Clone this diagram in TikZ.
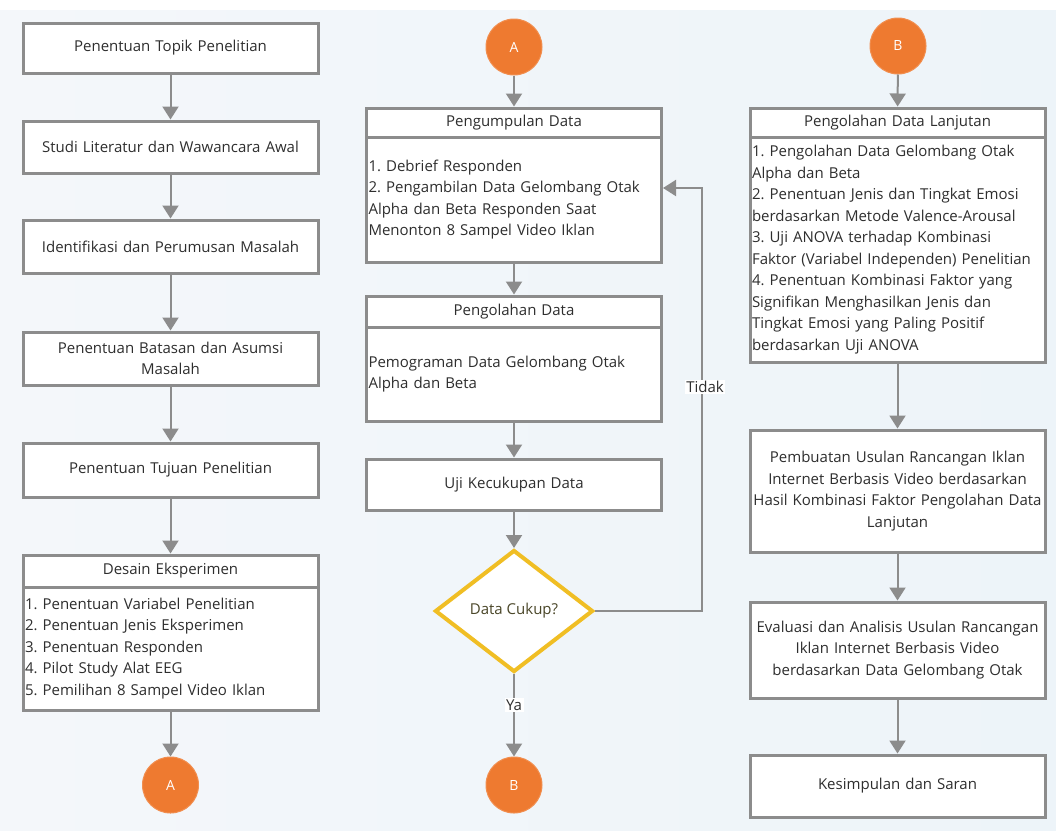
\documentclass[tikz,border=0pt]{standalone}
\usepackage{fontspec}
\setmainfont{Open Sans}
\frenchspacing
\usetikzlibrary{shapes.geometric,arrows.meta,calc}
\definecolor{bordc}{HTML}{8C8C8C}
\definecolor{txtc}{HTML}{2E2E2E}
\definecolor{orangec}{HTML}{EE7A30}
\definecolor{goldc}{HTML}{F0BE24}
\definecolor{diatxt}{HTML}{4A4628}
\definecolor{bgL}{HTML}{F4F7FA}
\definecolor{bgM}{HTML}{D8EAF4}
\definecolor{bgR}{HTML}{EDF4F9}
\begin{document}
\begin{tikzpicture}[x=1pt,y=-1pt,
  font=\fontsize{15}{21.5}\selectfont,
  box/.style={draw=bordc, line width=3pt, fill=white, text=txtc, minimum width=295pt, align=center, text width=291pt, inner xsep=2pt, inner ysep=2pt},
  body/.style={box, align=left},
  conn/.style={circle, fill=orangec, draw=orangec!85!white, line width=1pt, minimum size=56pt, inner sep=0pt, text=white, font=\fontsize{14}{16}\selectfont},
  arr/.style={draw=bordc, line width=2pt, -{Triangle[length=13pt,width=16pt]}, bordc},
  lbl/.style={fill=white, text=txtc, inner sep=1.5pt}
]
\useasboundingbox (0,0) rectangle (1056,830);
\fill[white] (0,0) rectangle (1056,830);
\shade[left color=bgL, middle color=bgM, right color=bgR] (0,10) rectangle (1056,830);

% Left column
\node[box, minimum height=50pt] (t1) at (170.5,48) {Penentuan Topik Penelitian};
\node[box, minimum height=52pt] (t2) at (170.5,147) {Studi Literatur dan Wawancara Awal};
\node[box, minimum height=53pt] (t3) at (170.5,246.5) {Identifikasi dan Perumusan Masalah};
\node[box, minimum height=53pt] (t4) at (170.5,358.5) {Penentuan Batasan dan Asumsi\\Masalah};
\node[box, minimum height=54pt] (t5) at (170.5,470) {Penentuan Tujuan Penelitian};
\node[box, minimum height=32pt] (desH) at (170.5,571) {Desain Eksperimen};
\node[body, minimum height=123pt] (desB) at (170.5,648.5) {1. Penentuan Variabel Penelitian\\2. Penentuan Jenis Eksperimen\\3. Penentuan Responden\\4. Pilot Study Alat EEG\\5. Pemilihan 8 Sampel Video Iklan};
\node[conn] (cA1) at (170.5,785) {A};

% Middle column
\node[conn] (cA2) at (514,47) {A};
\node[box, minimum height=29pt] (pgH) at (514,122.5) {Pengumpulan Data};
\node[body, minimum height=125pt] (pgB) at (514,199.5) {1. Debrief Responden\\2. Pengambilan Data Gelombang Otak\\Alpha dan Beta Responden Saat\\Menonton 8 Sampel Video Iklan};
\node[box, minimum height=31pt] (poH) at (514,311.5) {Pengolahan Data};
\node[body, minimum height=94pt] (poB) at (514,374) {Pemograman Data Gelombang Otak\\Alpha dan Beta};
\node[box, minimum height=51pt] (uji) at (514,484.5) {Uji Kecukupan Data};
\node[diamond, draw=goldc, line width=4pt, fill=white, text=diatxt, minimum width=158pt, minimum height=122pt, inner sep=0pt] (dia) at (514,611) {Data Cukup?};
\node[conn] (cB1) at (514,785) {B};

% Right column
\node[conn] (cB2) at (898,46) {B};
\node[box, minimum height=29pt] (lnH) at (897.5,122.5) {Pengolahan Data Lanjutan};
\node[body, minimum height=225pt] (lnB) at (897.5,249.5) {1. Pengolahan Data Gelombang Otak\\Alpha dan Beta\\2. Penentuan Jenis dan Tingkat Emosi\\berdasarkan Metode Valence-Arousal\\3. Uji ANOVA terhadap Kombinasi\\Faktor (Variabel Independen) Penelitian\\4. Penentuan Kombinasi Faktor yang\\Signifikan Menghasilkan Jenis dan\\Tingkat Emosi yang Paling Positif\\berdasarkan Uji ANOVA};
\node[box, minimum height=122pt] (pb) at (897.5,491) {Pembuatan Usulan Rancangan Iklan\\Internet Berbasis Video berdasarkan\\Hasil Kombinasi Faktor Pengolahan Data\\Lanjutan};
\node[box, minimum height=96pt] (ev) at (897.5,650) {Evaluasi dan Analisis Usulan Rancangan\\Iklan Internet Berbasis Video\\berdasarkan Data Gelombang Otak};
\node[box, minimum height=62pt] (ks) at (897.5,786) {Kesimpulan dan Saran};

% Connectors left
\draw[arr] (t1) -- (t2);
\draw[arr] (t2) -- (t3);
\draw[arr] (t3) -- (t4);
\draw[arr] (t4) -- (t5);
\draw[arr] (t5) -- (desH);
\draw[arr] (desB) -- (cA1);
% middle
\draw[arr] (cA2) -- (pgH);
\draw[arr] (pgB) -- (poH);
\draw[arr] (poB) -- (uji);
\draw[arr] (uji) -- (dia);
\draw[arr] (dia) -- node[lbl, pos=0.38] {Ya} (cB1);
\coordinate (lp) at (702,188);
\draw[arr] (dia.east) -| (lp) -- (lp -| pgB.east);
\node[lbl] (tidak) at (705,387) {Tidak};
% right
\draw[arr] (cB2) -- (lnH);
\draw[arr] (lnB) -- (pb);
\draw[arr] (pb) -- (ev);
\draw[arr] (ev) -- (ks);
\end{tikzpicture}
\end{document}
